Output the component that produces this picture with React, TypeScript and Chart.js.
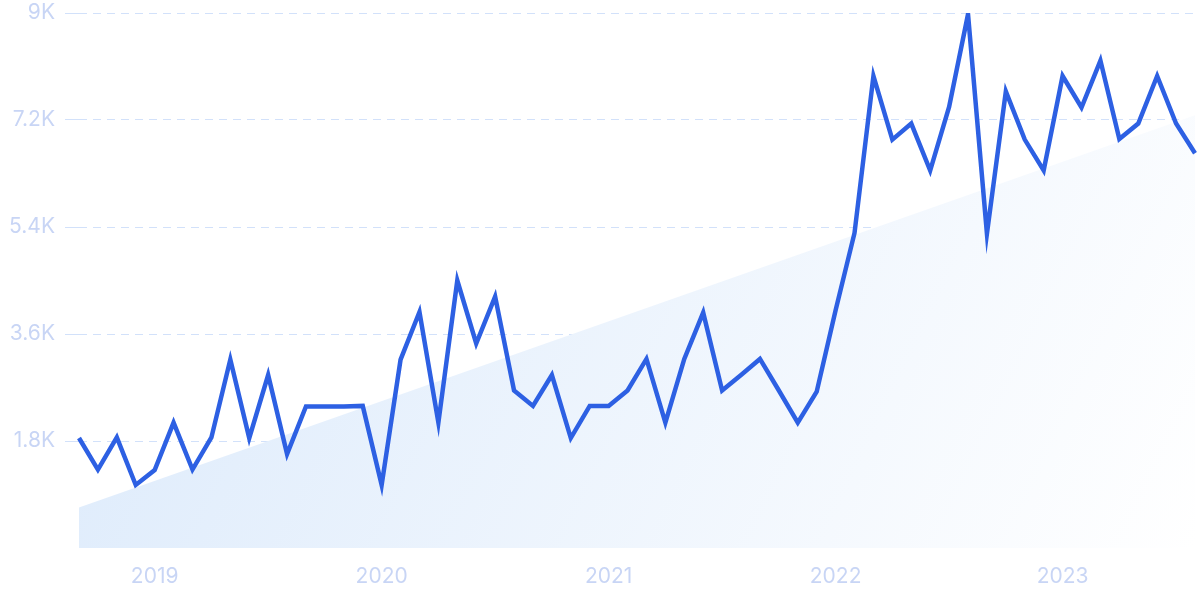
import React, { useEffect, useRef } from "react";
import { Chart, registerables } from "chart.js";

Chart.register(...registerables);

const months: string[] = [
  "Sep 2018", "Oct 2018", "Nov 2018", "Dec 2018",
  "Jan 2019", "Feb 2019", "Mar 2019", "Apr 2019", "May 2019", "Jun 2019",
  "Jul 2019", "Aug 2019", "Sep 2019", "Oct 2019", "Nov 2019", "Dec 2019",
  "Jan 2020", "Feb 2020", "Mar 2020", "Apr 2020", "May 2020", "Jun 2020",
  "Jul 2020", "Aug 2020", "Sep 2020", "Oct 2020", "Nov 2020", "Dec 2020",
  "Jan 2021", "Feb 2021", "Mar 2021", "Apr 2021", "May 2021", "Jun 2021",
  "Jul 2021", "Aug 2021", "Sep 2021", "Oct 2021", "Nov 2021", "Dec 2021",
  "Jan 2022", "Feb 2022", "Mar 2022", "Apr 2022", "May 2022", "Jun 2022",
  "Jul 2022", "Aug 2022", "Sep 2022", "Oct 2022", "Nov 2022", "Dec 2022",
  "Jan 2023", "Feb 2023", "Mar 2023", "Apr 2023", "May 2023", "Jun 2023",
  "Jul 2023", "Aug 2023",
];

const searches: number[] = [
  1850, 1320, 1860, 1060, 1310, 2110, 1320, 1860, 3170, 1850,
  2910, 1580, 2380, 2380, 2380, 2390, 1060, 3170, 3970, 2110,
  4500, 3440, 4230, 2650, 2390, 2910, 1850, 2390, 2390, 2650,
  3180, 2110, 3180, 3960, 2650, 2910, 3180, 2650, 2110, 2630,
  4000, 5300, 7940, 6870, 7140, 6350, 7420, 8980, 5290, 7680,
  6870, 6350, 7940, 7410, 8200, 6880, 7140, 7940, 7140, 6640,
];

const yearTicks: string[] = ["2019", "2020", "2021", "2022", "2023"];

const trendStart = 680;
const trendEnd = 7280;

const yMin = 0;
const yMax = 9000;
const yStep = 1800;

export default function App() {
  const canvasRef = useRef<HTMLCanvasElement | null>(null);

  useEffect(() => {
    if (!canvasRef.current) return;
    const trendData: (number | null)[] = months.map((_, i) =>
      i === 0 ? trendStart : i === months.length - 1 ? trendEnd : null
    );
    const font = { family: "Inter, 'Noto Sans', sans-serif", size: 21 };
    const chart = new Chart(canvasRef.current, {
      type: "line",
      data: {
        labels: months,
        datasets: [
          {
            data: searches,
            borderColor: "#2d60e3",
            borderWidth: 4.5,
            pointRadius: 0,
            tension: 0,
            fill: false,
            order: 0,
          },
          {
            data: trendData,
            spanGaps: true,
            borderWidth: 0,
            borderColor: "rgba(0,0,0,0)",
            pointRadius: 0,
            tension: 0,
            fill: "origin",
            order: 1,
            backgroundColor: (ctx: any) => {
              const area = ctx.chart.chartArea;
              if (!area) return "#e6f0fc";
              const g = ctx.chart.ctx.createLinearGradient(
                area.left,
                area.top,
                area.right,
                area.bottom
              );
              g.addColorStop(0, "#dae9fb");
              g.addColorStop(1, "#ffffff");
              return g;
            },
          },
        ],
      },
      options: {
        animation: false,
        responsive: true,
        maintainAspectRatio: false,
        layout: { padding: { top: 13, right: 5, left: 0, bottom: 0 } },
        plugins: {
          legend: { display: false },
          tooltip: { enabled: false },
        },
        scales: {
          x: {
            grid: { display: false },
            border: { display: false },
            ticks: {
              autoSkip: false,
              maxRotation: 0,
              padding: 8,
              color: "#c8d5f5",
              font,
              callback: (_v: any, i: number) => {
                const m = months[i];
                if (m && m.startsWith("Jan ")) {
                  const y = m.slice(4);
                  return yearTicks.includes(y) ? y : "";
                }
                return "";
              },
            },
            afterFit: (s: any) => {
              s.height = 52;
              s.paddingLeft = 0;
              s.paddingRight = 0;
            },
          },
          y: {
            min: yMin,
            max: yMax,
            border: { display: false, dash: [8, 6] },
            grid: {
              color: (ctx: any) =>
                ctx.tick && ctx.tick.value === 0 ? "rgba(0,0,0,0)" : "#d2e1fa",
              tickLength: 14,
              lineWidth: 1,
            },
            ticks: {
              stepSize: yStep,
              padding: 10,
              color: "#c8d5f5",
              font,
              callback: (v: any) => (Number(v) === 0 ? "" : Number(v) / 1000 + "K"),
            },
            afterFit: (s: any) => {
              s.width = 79;
              s.paddingTop = 0;
              s.paddingBottom = 0;
            },
          },
        },
      },
    });
    return () => chart.destroy();
  }, []);

  return (
    <div style={{ position: "fixed", left: 0, top: 0, width: 1200, height: 600, background: "#fff" }}>
      <canvas ref={canvasRef} />
    </div>
  );
}
